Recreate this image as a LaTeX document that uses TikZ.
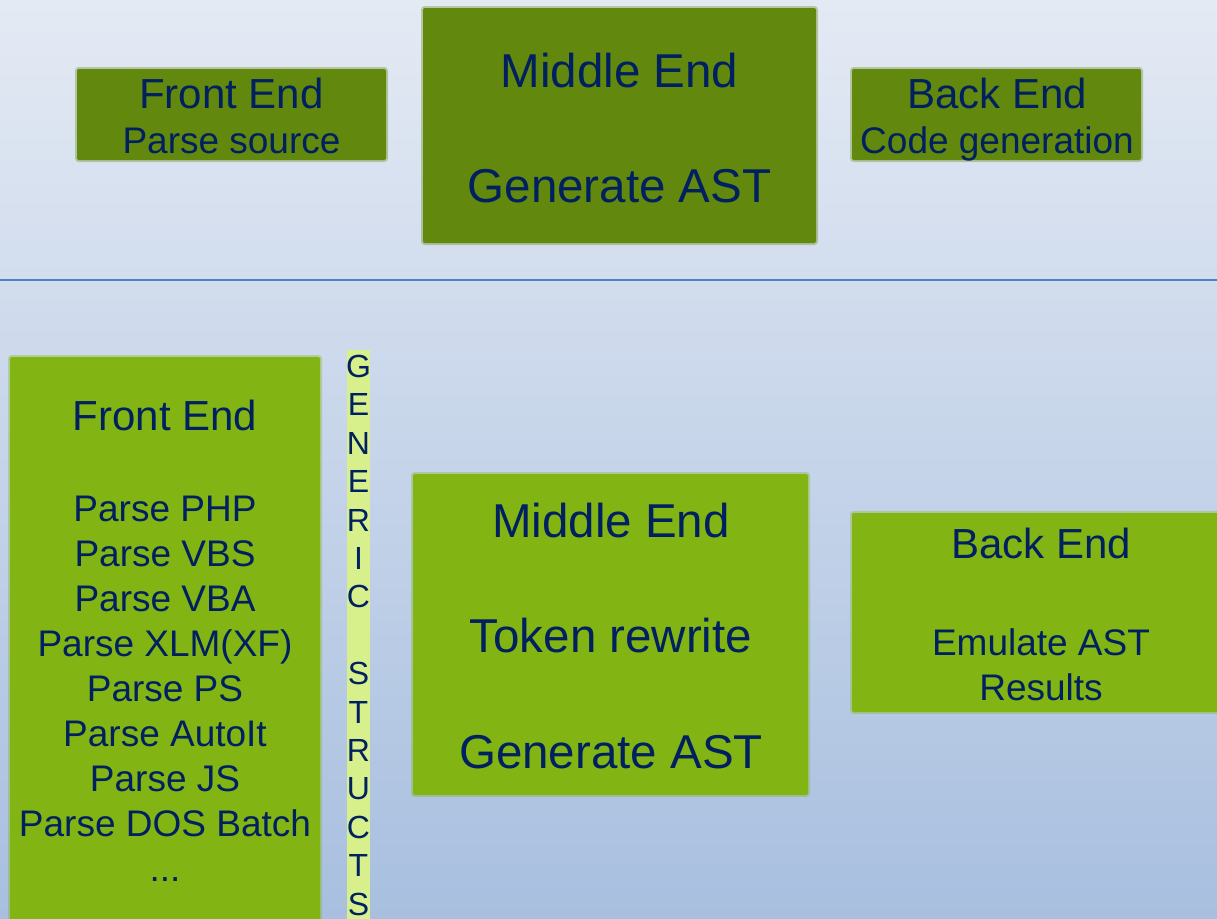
\documentclass[tikz,border=0pt]{standalone}
\usepackage{fontspec}
\setmainfont{Liberation Sans}
\definecolor{bgtop}{RGB}{228,234,244}
\definecolor{bgbot}{RGB}{168,191,223}
\definecolor{darkolive}{RGB}{98,136,14}
\definecolor{lightolive}{RGB}{130,180,20}
\definecolor{paleolive}{RGB}{215,240,140}
\definecolor{navytext}{RGB}{0,32,96}
\definecolor{rulecol}{RGB}{79,127,196}

\begin{document}
\begin{tikzpicture}[x=1pt, y=-1pt,
        top/.style = {fill=darkolive, draw=darkolive, draw opacity=.35, line width=4pt, rounded corners=2pt, inner sep=0pt},
        low/.style = {fill=lightolive, draw=lightolive, draw opacity=.35, line width=4pt, rounded corners=2pt, inner sep=0pt},
        txt/.style = {text=navytext, align=center, inner sep=0pt, anchor=base, font=\fontsize{37}{45}\selectfont}]
            \useasboundingbox (0,0) rectangle (1217,918);
            \clip (0,0) rectangle (1217,918);
            \shade[top color=bgtop, bottom color=bgbot] (0,0) rectangle (1217,918);

            \coordinate (l) at (0,280);
            \coordinate (r) at (1217,280);
            \draw[rulecol, line width=1.2pt] (l) -- (r);

            % old layout (text placed at its last baseline)
            \node[top, minimum width=309pt, minimum height=91pt] (1) at (231.5,114.5) {};
            \node[top, minimum width=393pt, minimum height=235pt] (2) at (619.5,125.5) {};
            \node[top, minimum width=289pt, minimum height=91pt] (3) at (996.5,114.5) {};

            \node[txt] (1t) at (231.5,153) {{\fontsize{42}{45}\selectfont Front End}\\Parse source};
            \node[txt, font=\fontsize{47.5}{57.5}\selectfont] (2t) at (619.5,202) {Middle End\\[57.5pt]Generate AST};
            \node[txt] (3t) at (997,153) {{\fontsize{42}{45}\selectfont Back End}\\Code generation};

            % new layout
            \node[low, minimum width=310pt, minimum height=573pt] (4) at (165,643.5) {};
            \node[fill=paleolive, inner sep=0pt, minimum width=23pt, minimum height=580pt] (5) at (358.5,640) {};
            \node[low, minimum width=395pt, minimum height=321pt] (6) at (610.5,634.5) {};
            \node[low, minimum width=378pt, minimum height=199pt] (7) at (1041,612.5) {};

            \node[txt] (4t) at (165,881) {{\fontsize{42}{45}\selectfont Front End}\\[46pt]Parse PHP\\Parse VBS\\Parse VBA\\Parse XLM(XF)\\Parse PS\\Parse AutoIt\\Parse JS\\Parse DOS Batch\\...};
            \node[txt, font=\fontsize{32}{38.4}\selectfont] (5t) at (358.5,915) {G\\E\\N\\E\\R\\I\\C\\[38.4pt]S\\T\\R\\U\\C\\T\\S};
            \node[txt, font=\fontsize{47.5}{57.5}\selectfont] (6t) at (611,768) {Middle End\\[58pt]Token rewrite\\[58pt]Generate AST};
            \node[txt] (7t) at (1041,700) {{\fontsize{42}{45}\selectfont Back End}\\[52pt]Emulate AST\\Results};
\end{tikzpicture}
\end{document}
